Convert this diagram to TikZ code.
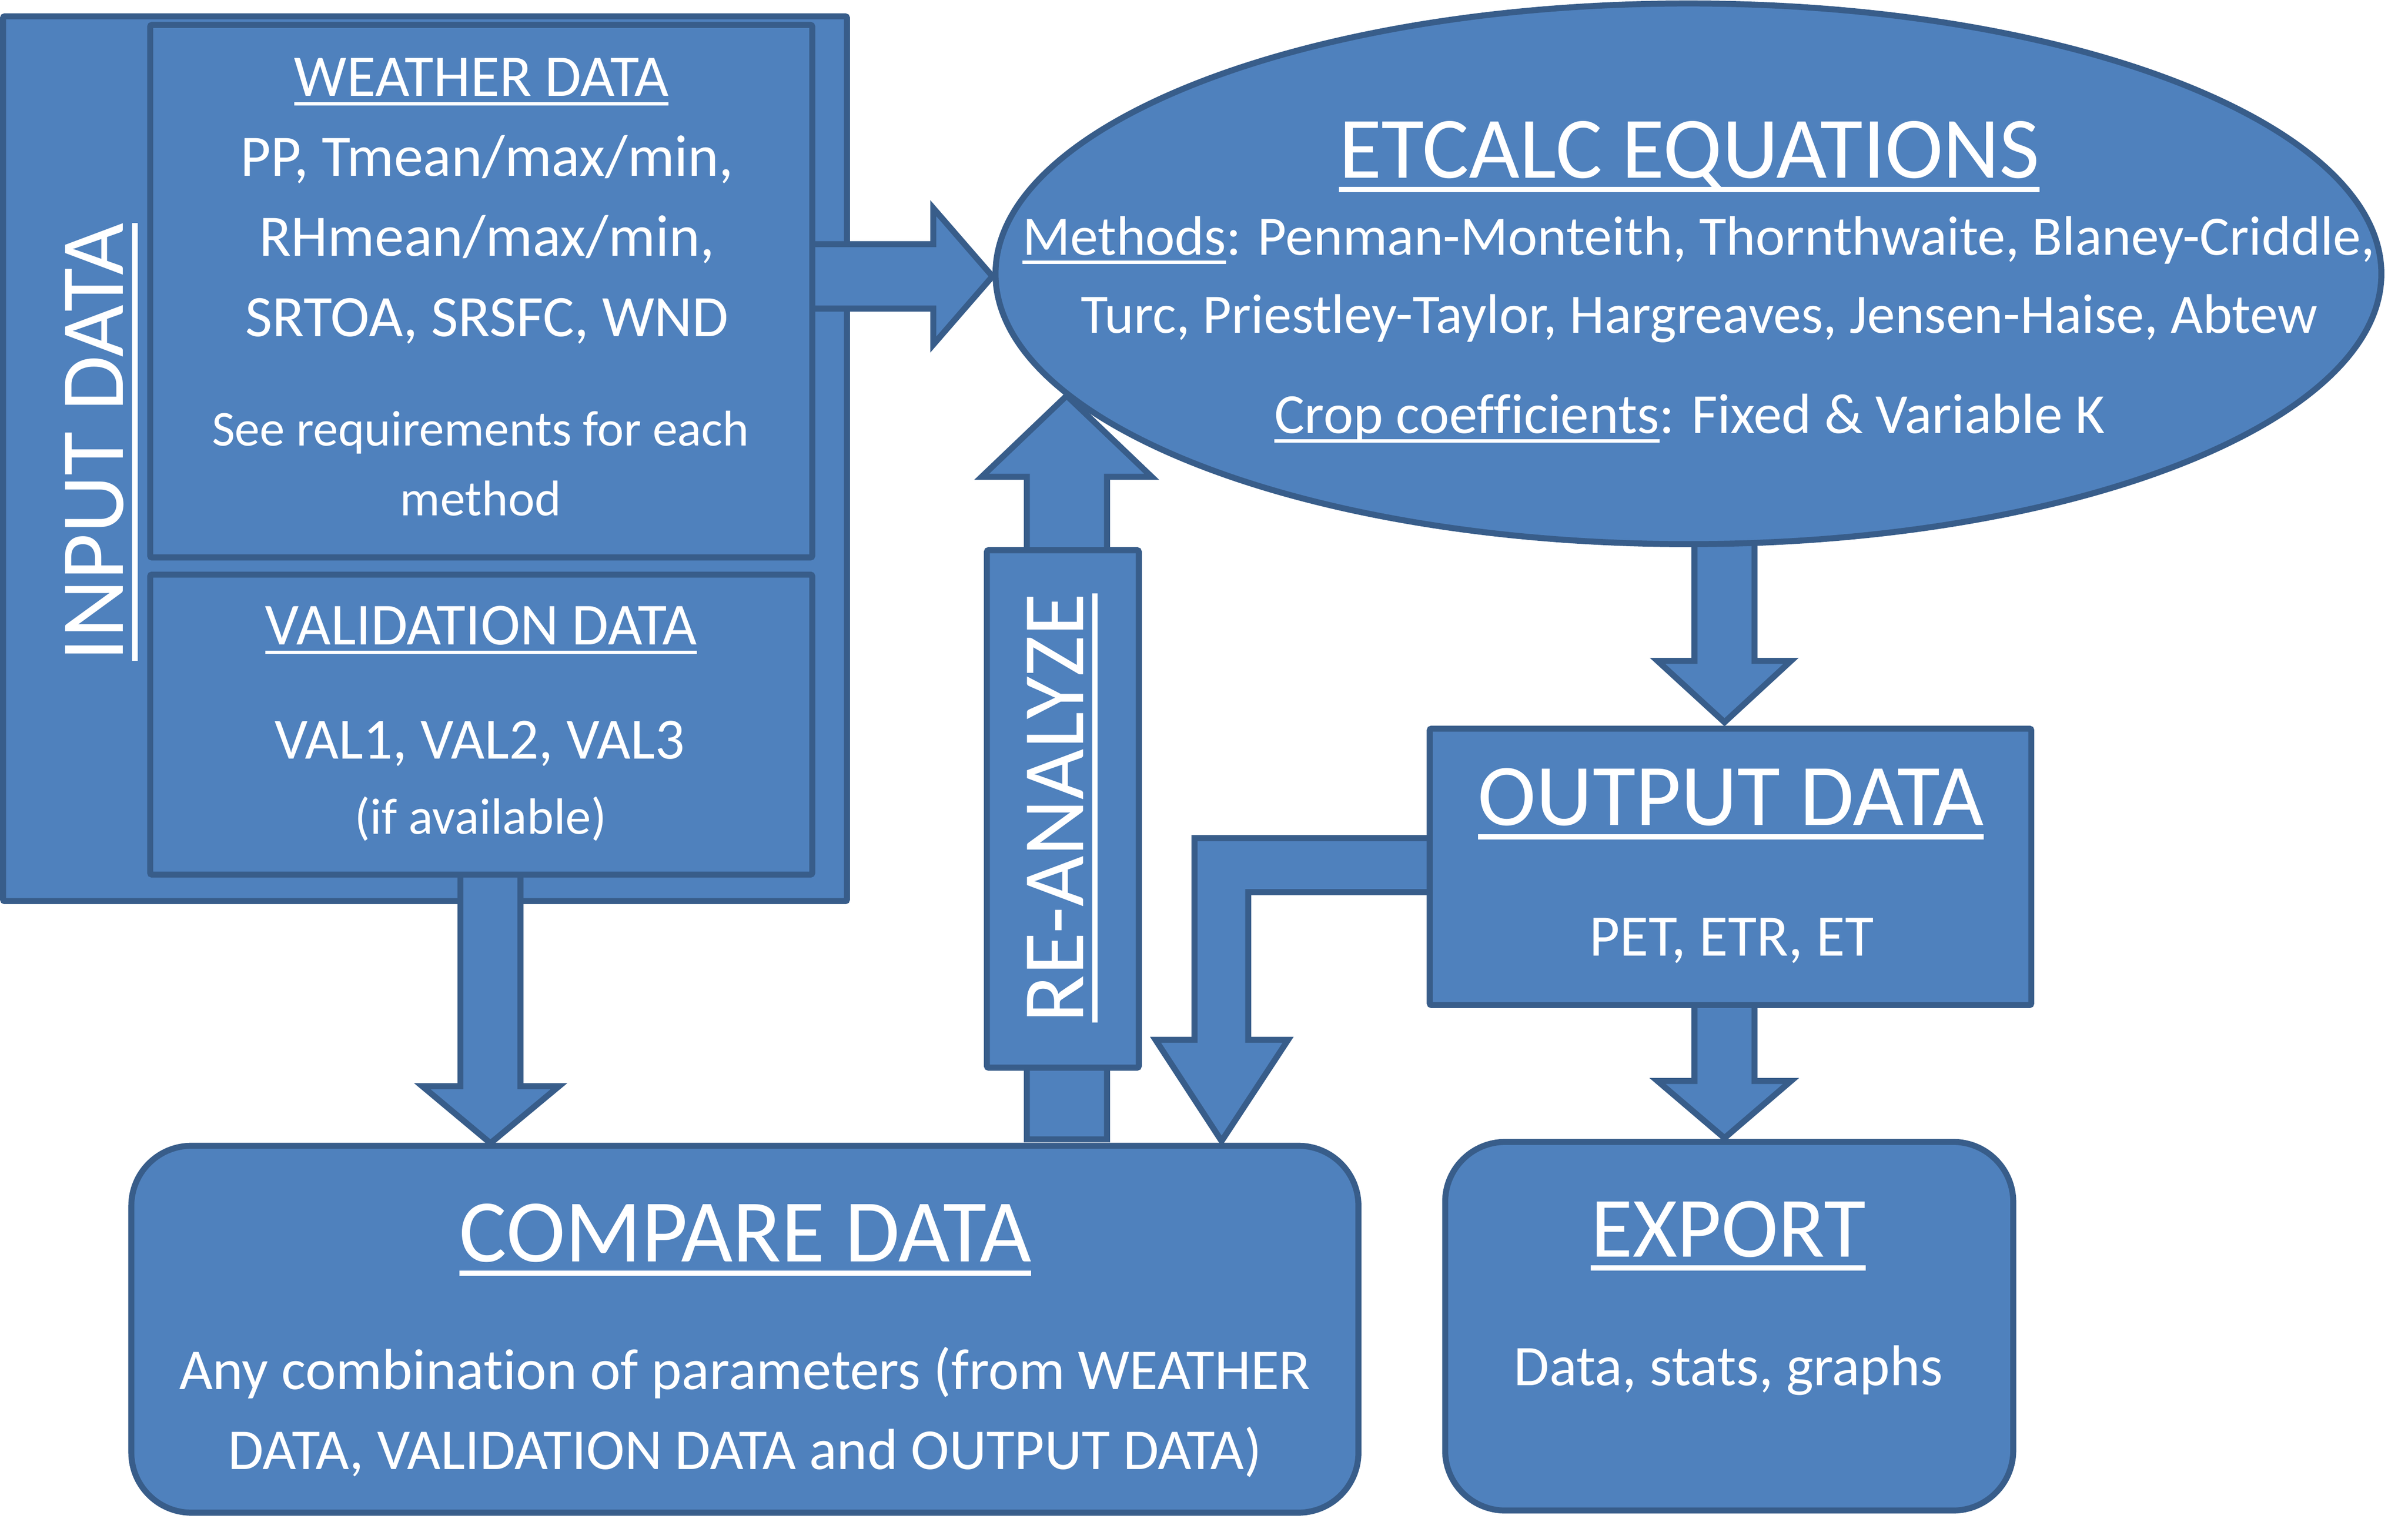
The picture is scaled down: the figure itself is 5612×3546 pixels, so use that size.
\documentclass[tikz,border=0pt]{standalone}
\usepackage{fontspec}
\setmainfont{Carlito}[Ligatures=NoCommon]
\usetikzlibrary{shapes.geometric}
\definecolor{fillb}{HTML}{4F81BD}
\definecolor{lineb}{HTML}{385D8A}
\newsavebox\ulbox
\newcommand\myul[1]{\sbox\ulbox{#1}\rlap{\rule[-0.16em]{\wd\ulbox}{0.06em}}\usebox\ulbox}
\newcommand\fsz[1]{\fontsize{#1pt}{#1pt}\selectfont}
\begin{document}
\begin{tikzpicture}[x=0.1pt,y=-0.1pt,
  blk/.style={draw=lineb, fill=fillb, line width=1.4pt, line join=miter},
  box/.style={blk, inner sep=0pt, rounded corners=0.4pt},
  rbox/.style={blk, inner sep=0pt, rounded corners=14pt},
  txt/.style={text=white, inner sep=0pt, anchor=base}]
\useasboundingbox (0,0) rectangle (5612,3546);

% outer input box
\node[box, minimum width=196.7pt, minimum height=206.2pt] (inp) at (990.5,1069) {};

% arrow weather -> equations
\draw[blk] (1880,569) -- (2175,569) -- (2175,485) -- (2313,644) -- (2175,803) -- (2175,719) -- (1880,719) -- cycle;
% arrow validation -> compare
\draw[blk] (1073,2030) -- (1073,2531) -- (984,2531) -- (1143,2664) -- (1303,2531) -- (1213,2531) -- (1213,2030) -- cycle;

% inner boxes
\node[box, minimum width=154.3pt, minimum height=124.1pt] (wea) at (1121.5,678.5) {};
\node[box, minimum width=154.3pt, minimum height=69.9pt] (val) at (1121.5,1688.5) {};

% arrow equations -> output
\draw[blk] (3949,1250) -- (3949,1540) -- (3863,1540) -- (4019,1683) -- (4174,1540) -- (4089,1540) -- (4089,1250) -- cycle;

% ellipse
\node[blk, ellipse, inner sep=0pt, minimum width=323pt, minimum height=126pt] (eq) at (3935,638) {};

% re-analyze arrow and box
\draw[blk] (2393,2655) -- (2393,1111) -- (2288,1111) -- (2486,922) -- (2684,1111) -- (2580,1111) -- (2580,2655) -- cycle;
\node[box, minimum width=35.4pt, minimum height=120.6pt] (rea) at (2477,1885) {};

% bent arrow output -> compare
\draw[blk] (3345,1953) -- (2784,1953) -- (2784,2423) -- (2693,2423) -- (2847,2659) -- (3002,2423) -- (2909,2423) -- (2909,2079) -- (3345,2079) -- cycle;
% arrow output -> export
\draw[blk] (3949,2335) -- (3949,2519) -- (3863,2519) -- (4019,2652) -- (4174,2519) -- (4089,2519) -- (4089,2335) -- cycle;

\node[box, minimum width=140.2pt, minimum height=64.4pt] (out) at (4033,2020) {};
\node[rbox, minimum width=286pt, minimum height=85.5pt] (cmp) at (1736,3097.5) {};
\node[rbox, minimum width=132.4pt, minimum height=85.9pt] (exp) at (4030,3090.5) {};

% texts: input
\node[txt, rotate=90] (tinp) at (287,1030) {\fsz{21}\myul{INPUT DATA}};
\node[txt] (tw0) at (1122,224) {\fsz{13.8}\myul{WEATHER DATA}};
\node[txt] (tw1) at (1135,410) {\fsz{13.7}PP, Tmean/max/min,};
\node[txt] (tw2) at (1135,597) {\fsz{13.7}RHmean/max/min,};
\node[txt] (tw3) at (1135,784) {\fsz{13.7}SRTOA, SRSFC, WND};
\node[txt] (tw4) at (1120,1039) {\fsz{11.7}See requirements for each};
\node[txt] (tw5) at (1120,1202) {\fsz{11.7}method};
\node[txt] (tv0) at (1121,1502) {\fsz{13.9}\myul{VALIDATION DATA}};
\node[txt] (tv1) at (1118,1768) {\fsz{13.6}VAL1, VAL2, VAL3};
\node[txt] (tv2) at (1120,1943) {\fsz{11.9}(if available)};

% equations
\node[txt] (te0) at (3937,415) {\fsz{20.4}\myul{ETCALC EQUATIONS}};
\node[txt] (te1) at (3959,594) {\fsz{13}\myul{Methods}: Penman-Monteith, Thornthwaite, Blaney-Criddle,};
\node[txt] (te2) at (3960,776) {\fsz{13}Turc, Priestley-Taylor, Hargreaves, Jensen-Haise, Abtew};
\node[txt] (te3) at (3938,1010) {\fsz{13.2}\myul{Crop coefficients}: Fixed \& Variable K};

% re-analyze
\node[txt, rotate=90] (trea) at (2525,1883) {\fsz{20.4}\myul{RE-ANALYZE}};

% output
\node[txt] (to0) at (4034,1923) {\fsz{20.5}\myul{OUTPUT DATA}};
\node[txt] (to1) at (4036,2227) {\fsz{13.7}PET, ETR, ET};

% compare
\node[txt] (tc0) at (1737,2940) {\fsz{20.8}\myul{COMPARE DATA}};
\node[txt] (tc1) at (1736,3238) {\fsz{13.5}Any combination of parameters (from WEATHER};
\node[txt] (tc2) at (1736,3424) {\fsz{13.5}DATA, VALIDATION DATA and OUTPUT DATA)};

% export
\node[txt] (tx0) at (4028,2929) {\fsz{20}\myul{EXPORT}};
\node[txt] (tx1) at (4028,3228) {\fsz{13.4}Data, stats, graphs};
\end{tikzpicture}
\end{document}
